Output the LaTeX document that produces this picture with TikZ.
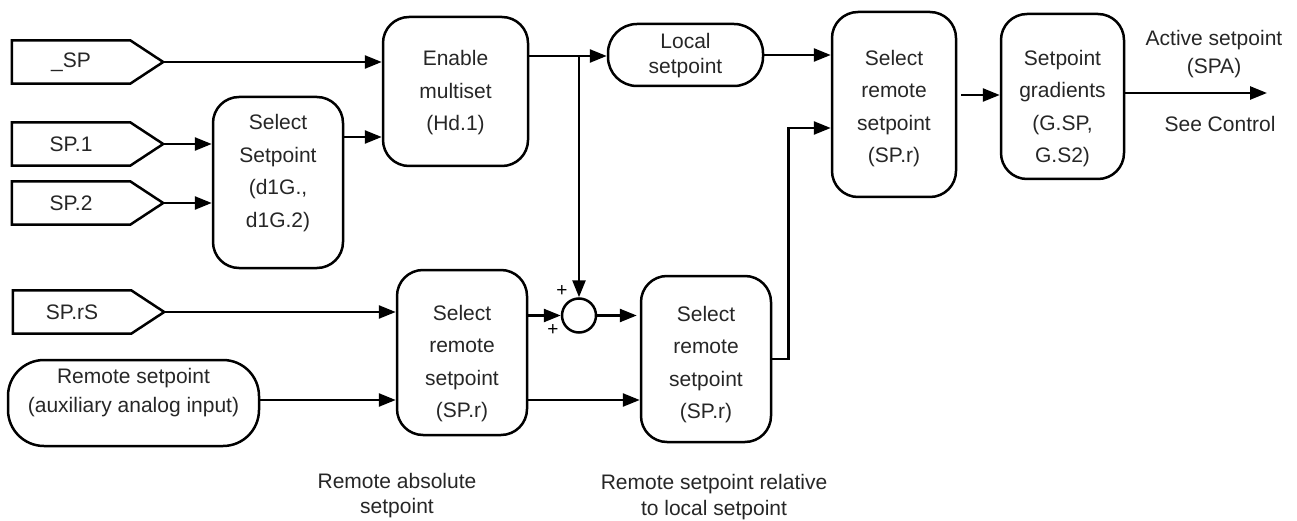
\documentclass[tikz,border=0pt]{standalone}
\usepackage{fontspec}
\setmainfont{Liberation Sans}
\usetikzlibrary{arrows.meta,calc}
\begin{document}
\begin{tikzpicture}[x=1pt,y=-1pt,
  txt/.style={font=\fontsize{21}{32.5}\selectfont, align=center, inner sep=0pt, text=black!85},
  blk/.style={draw, line width=2.5pt, rounded corners=#1, inner sep=0pt},
  blk/.default=26pt,
  inp/.style={inner sep=0pt, font=\fontsize{21}{25}\selectfont, text=black!85},
  con/.style={line width=2.5pt, -{Triangle[length=17pt,width=13pt]}},
  ln/.style={line width=2.5pt, line join=miter},
  pls/.style={inner sep=0pt, font=\fontsize{19}{19}\selectfont}]
\useasboundingbox (0,0) rectangle (1297,521);

% input pentagons
\node[inp, minimum width=118pt, minimum height=43pt] (sp) at (71,62) {\_SP};
\node[inp, minimum width=118pt, minimum height=43pt] (sp1) at (71,144) {SP.1};
\node[inp, minimum width=118pt, minimum height=43pt] (sp2) at (71,203) {SP.2};
\node[inp, minimum width=118pt, minimum height=43pt] (sprs) at (72,312) {SP.rS};
\foreach \n in {sp,sp1,sp2,sprs}{
  \draw[ln] (\n.north west) -- (\n.north east) -- ($(\n.east)+(33,0)$) coordinate (\n tip)
    -- (\n.south east) -- (\n.south west) -- cycle;
}

% blocks
\node[blk=36pt, minimum width=251pt, minimum height=86pt] (rsp) at (133.5,403) {};
\node[txt, font=\fontsize{21}{29}\selectfont] (rspt) at (133.5,392.5) {Remote setpoint\\(auxiliary analog input)};

\node[blk, minimum width=130pt, minimum height=171pt] (selsp) at (278,182.5) {};
\node[txt] (selspt) at (278,173) {Select\\Setpoint\\(d1G.,\\d1G.2)};

\node[blk, minimum width=145pt, minimum height=149pt] (en) at (455.5,91.5) {};
\node[txt] (ent) at (455.5,93) {Enable\\multiset\\(Hd.1)};

\node[blk=29pt, minimum width=155pt, minimum height=62pt] (loc) at (685.5,55) {};
\node[txt, font=\fontsize{21}{25.6}\selectfont] (loct) at (685.5,55.5) {Local\\setpoint};

\node[blk, minimum width=124pt, minimum height=185pt] (selrem) at (894,104.5) {};
\node[txt] (selremt) at (894,108.5) {Select\\remote\\setpoint\\(SP.r)};

\node[blk, minimum width=123pt, minimum height=165pt] (grad) at (1062.5,96.5) {};
\node[txt] (gradt) at (1062.5,108.5) {Setpoint\\gradients\\(G.SP,\\G.S2)};

\node[blk, minimum width=130pt, minimum height=165pt] (abs) at (462,352.5) {};
\node[txt] (abst) at (462,363.5) {Select\\remote\\setpoint\\(SP.r)};

\node[blk, minimum width=130pt, minimum height=166pt] (rel) at (706,359) {};
\node[txt] (relt) at (706,364.5) {Select\\remote\\setpoint\\(SP.r)};

\node[draw, line width=2.5pt, circle, minimum size=34pt, inner sep=0pt] (sum) at (579,315.5) {};
\node[pls] (p1) at (562,291) {+};
\node[pls] (p2) at (553,330) {+};

% labels
\node[txt, font=\fontsize{21}{28}\selectfont] (act) at (1214,54) {Active setpoint\\(SPA)};
\node[txt] (see) at (1220,124) {See Control};
\node[txt, font=\fontsize{21}{25.5}\selectfont] (lababs) at (397,495.5) {Remote absolute\\setpoint};
\node[txt, font=\fontsize{21}{25.5}\selectfont] (labrel) at (714,497) {Remote setpoint relative\\to local setpoint};
\coordinate (out) at (1267,93);

% connectors
\draw[con] (sptip) -- (sptip -| en.west);
\draw[con] (selsp.east |- 0,137) -- (en.west |- 0,137);
\draw[con] (sp1tip) -- (sp1tip -| selsp.west);
\draw[con] (sp2tip) -- (sp2tip -| selsp.west);
\draw[con] (en.east |- 0,56) -- (loc.west |- 0,56);
\coordinate (j) at (sum.north |- 0,56);
\draw[con] (j) -- (sum.north);
\draw[con] (loc.east) -- (loc.east -| selrem.west);
\draw[con] (rel.east) -- ++(16,0) |- (selrem.west |- 0,128);
\draw[con] ($(selrem.east |- 0,95)+(4,0)$) -- (grad.west |- 0,95);
\draw[con] (grad.east |- out) -- (out);
\draw[con] (sprstip) -- (sprstip -| abs.west);
\draw[con] (rsp.east |- 0,400) -- (abs.west |- 0,400);
\draw[con] (abs.east |- sum.west) -- (sum.west);
\draw[con] (abs.east |- 0,400) -- (rel.west |- 0,400);
\draw[con] (sum.east) -- ($(sum.east -| rel.west)+(-3,0)$);
\end{tikzpicture}
\end{document}
